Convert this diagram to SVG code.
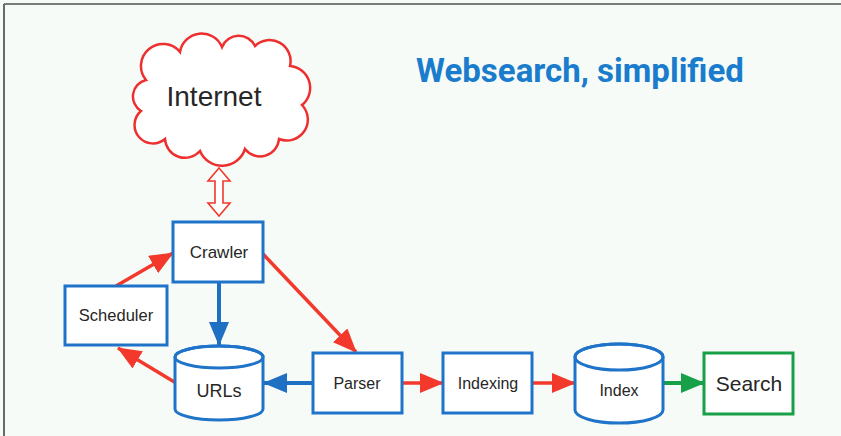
<svg xmlns="http://www.w3.org/2000/svg" width="841" height="436" viewBox="0 0 841 436">
  <defs>
    <style>
      .box { fill: #ffffff; stroke: #1f74c9; stroke-width: 3; }
      .db { fill: #ffffff; stroke: #1f74c9; stroke-width: 3; }
      .lbl { font-family: "Liberation Sans", Arial, sans-serif; fill: #262626; text-anchor: middle; }
      .red { stroke: #f2392b; stroke-width: 3.5; fill: none; }
      .blue { stroke: #1f6fc3; stroke-width: 4; fill: none; }
      .green { stroke: #17a048; stroke-width: 4; fill: none; }
    </style>
    <marker id="headRed" markerUnits="userSpaceOnUse" markerWidth="24" markerHeight="20" refX="23" refY="10" orient="auto">
      <path d="M0,0 L24,10 L0,20 z" fill="#f2392b"/>
    </marker>
    <marker id="headBlue" markerUnits="userSpaceOnUse" markerWidth="24" markerHeight="20" refX="23" refY="10" orient="auto">
      <path d="M0,0 L24,10 L0,20 z" fill="#1f6fc3"/>
    </marker>
    <marker id="headGreen" markerUnits="userSpaceOnUse" markerWidth="24" markerHeight="20" refX="23" refY="10" orient="auto">
      <path d="M0,0 L24,10 L0,20 z" fill="#17a048"/>
    </marker>
  </defs>

  <!-- page -->
  <rect x="0" y="0" width="841" height="436" fill="#f6fbf8"/>
  <line x1="4" y1="4" x2="841" y2="4" stroke="#7a7a7a" stroke-width="2"/>
  <line x1="4" y1="4" x2="4" y2="436" stroke="#6a6a6a" stroke-width="2"/>

  <text x="580" y="82" font-family="Roboto, 'Liberation Sans', sans-serif" font-weight="bold" font-size="33" fill="#1a7ccc" text-anchor="middle">Websearch, simplified</text>

  <!-- connectors -->
  <g id="connectors">
    <polygon points="219,168 230,181 223,181 223,203 230,203 219,216 208,203 215,203 215,181 208,181" fill="#ffffff" stroke="#f2392b" stroke-width="1.6" stroke-linejoin="miter"/>
    <path class="red" d="M116,286 L173,253" marker-end="url(#headRed)"/>
    <path class="red" d="M176,383 L118,348" marker-end="url(#headRed)"/>
    <path class="red" d="M263,254 L356,352" marker-end="url(#headRed)"/>
    <path class="blue" d="M219,282 L219,345" marker-end="url(#headBlue)"/>
    <path class="blue" d="M313,383 L264,383" marker-end="url(#headBlue)"/>
    <path class="red" d="M402,383 L443,383" marker-end="url(#headRed)"/>
    <path class="red" d="M532,383 L575,383" marker-end="url(#headRed)"/>
    <path class="green" d="M663,383 L704,383" marker-end="url(#headGreen)"/>
  </g>

  <g id="internet">
    <path d="M146,80 A20,20 0 0 1 180,52 A22,22 0 0 1 222,47 A18,18 0 0 1 255,46 A21,21 0 0 1 290,66 A22,22 0 0 1 302,105 A21,21 0 0 1 279,139 A19,19 0 0 1 245,149 A24,24 0 0 1 200,151 A20,20 0 0 1 165,139 A17,17 0 0 1 141,111 A17,17 0 0 1 146,80 Z" fill="#ffffff" stroke="#ee2f2f" stroke-width="2.5"/>
    <text class="lbl" x="214" y="106" font-size="28" fill="#1c1c1c">Internet</text>
  </g>

  <g id="crawler">
    <rect class="box" x="173" y="222" width="90" height="60"/>
    <text class="lbl" x="219" y="258" font-size="17">Crawler</text>
  </g>

  <g id="scheduler">
    <rect class="box" x="65" y="286" width="102" height="59"/>
    <text class="lbl" x="116" y="321" font-size="16.5">Scheduler</text>
  </g>

  <g id="urls">
    <path class="db" d="M175,357 L175,409 A44,11 0 0 0 263,409 L263,357 A44,11 0 0 0 175,357 Z"/>
    <ellipse cx="219" cy="357" rx="44" ry="11" fill="none" stroke="#1f74c9" stroke-width="3"/>
    <text class="lbl" x="219" y="397" font-size="18">URLs</text>
  </g>

  <g id="parser">
    <rect class="box" x="313" y="353" width="89" height="60"/>
    <text class="lbl" x="357" y="389" font-size="16">Parser</text>
  </g>

  <g id="indexing">
    <rect class="box" x="443" y="353" width="89" height="60"/>
    <text class="lbl" x="488" y="389" font-size="16">Indexing</text>
  </g>

  <g id="index">
    <path class="db" d="M575,357 L575,410 A44,13 0 0 0 663,410 L663,357 A44,13 0 0 0 575,357 Z"/>
    <ellipse cx="619" cy="357" rx="44" ry="13" fill="none" stroke="#1f74c9" stroke-width="3"/>
    <text class="lbl" x="619" y="396" font-size="16">Index</text>
  </g>

  <g id="search">
    <rect x="704" y="353" width="89" height="61" fill="#ffffff" stroke="#17a048" stroke-width="3"/>
    <text class="lbl" x="749" y="391" font-size="21" fill="#1c1c1c">Search</text>
  </g>
</svg>
